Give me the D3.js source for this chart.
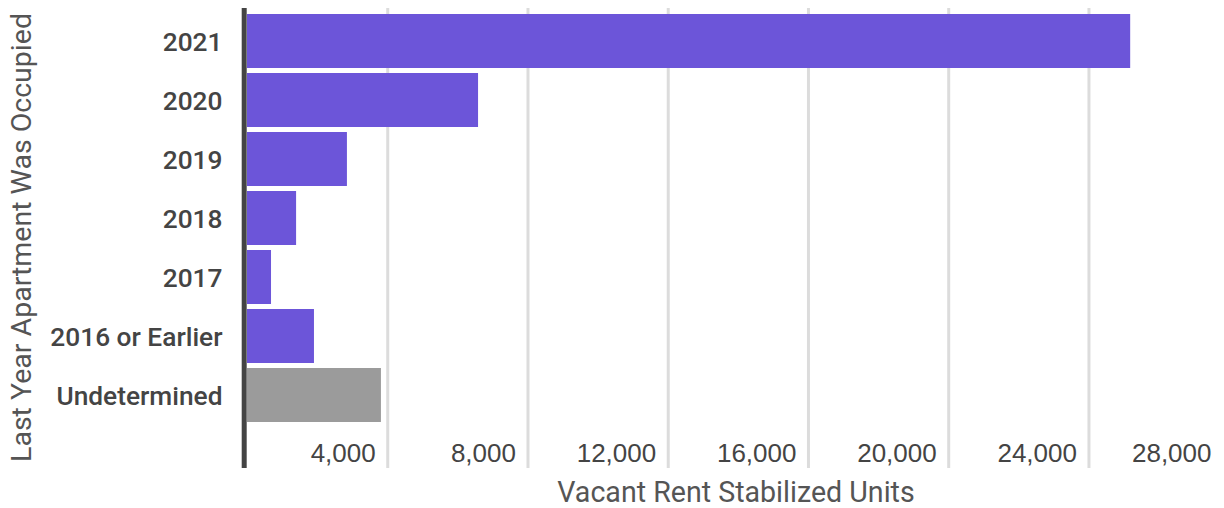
<!DOCTYPE html>
<html>
<head>
<meta charset="utf-8">
<script src="https://cdn.jsdelivr.net/npm/d3@7"></script>
<style>
  body { margin: 0; background: #fff; }
  svg { display: block; font-family: Roboto, "Noto Sans", sans-serif; }
</style>
</head>
<body>
<svg id="chart"></svg>
<script>
// data
const categories = ['2021', '2020', '2019', '2018', '2017', '2016 or Earlier', 'Undetermined'];
const units = [25190, 6590, 2850, 1400, 685, 1910, 3820];
const xticks = [4000, 8000, 12000, 16000, 20000, 24000, 28000];

const data = categories.map((c, i) => ({ year: c, value: units[i] }));

const width = 1224, height = 508;
const plot_top = 8, plot_bottom = 468;

const svg = d3.select('#chart')
    .attr('width', width)
    .attr('height', height);

const xscale = d3.scaleLinear()
    .domain([0, 28000])
    .range([247, 1228.7]);

const yscale = d3.scaleBand()
    .domain(categories)
    .range([11.5, 424.5])
    .paddingInner(0.085)
    .paddingOuter(0.0425);

// gridlines + tick labels
const xaxis = d3.axisBottom(xscale)
    .tickValues(xticks)
    .tickSize(plot_bottom - plot_top)
    .tickSizeOuter(0)
    .tickFormat(d3.format(','));

const xaxis_group = svg.append('g')
    .attr('transform', `translate(0, ${plot_top})`)
    .call(xaxis);

xaxis_group.select('.domain').remove();
xaxis_group.selectAll('.tick line')
    .attr('stroke', '#dcdcdc')
    .attr('stroke-width', 3);
xaxis_group.selectAll('.tick text')
    .attr('fill', '#444')
    .attr('font-size', 26)
    .attr('text-anchor', 'end')
    .attr('dy', null)
    .attr('y', 462 - plot_top)
    .attr('x', d => Math.min(-12, 1211 - xscale(d)));

// bars
svg.append('g').selectAll('rect')
    .data(data)
    .join('rect')
    .attr('x', xscale(0))
    .attr('y', d => yscale(d.year))
    .attr('width', d => xscale(d.value) - xscale(0))
    .attr('height', yscale.bandwidth())
    .attr('fill', d => d.year == 'Undetermined' ? '#9b9b9b' : '#6c55d9');

// left axis line
svg.append('line')
    .attr('x1', 244.2).attr('x2', 244.2)
    .attr('y1', plot_top).attr('y2', plot_bottom)
    .attr('stroke', '#444')
    .attr('stroke-width', 5);

// category labels
svg.append('g').selectAll('text')
    .data(categories)
    .join('text')
    .attr('x', 222.5)
    .attr('y', d => yscale(d) + yscale.bandwidth() / 2 + 9.5)
    .attr('text-anchor', 'end')
    .attr('font-size', 26.3)
    .attr('font-weight', 500)
    .attr('fill', '#444')
    .text(d => d);

// axis titles
svg.append('text')
    .attr('x', 736)
    .attr('y', 502)
    .attr('text-anchor', 'middle')
    .attr('font-size', 28.6)
    .attr('fill', '#555')
    .text('Vacant Rent Stabilized Units');

svg.append('text')
    .attr('transform', 'translate(30.7, 237.5) rotate(-90)')
    .attr('text-anchor', 'middle')
    .attr('font-size', 28.5)
    .attr('fill', '#555')
    .text('Last Year Apartment Was Occupied');
</script>
</body>
</html>
